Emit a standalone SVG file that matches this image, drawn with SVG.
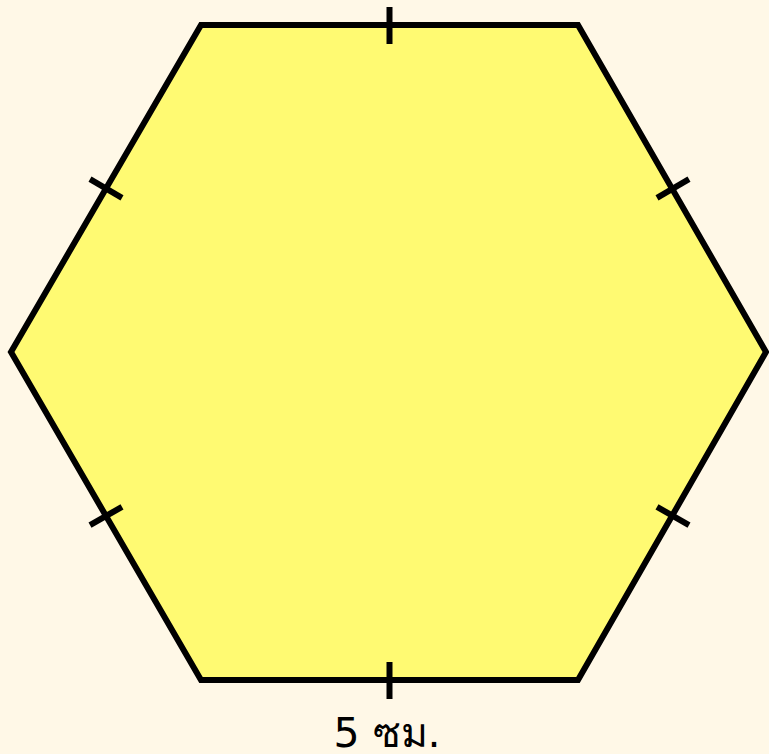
<svg xmlns="http://www.w3.org/2000/svg" width="769" height="754" viewBox="0 0 769 754">
<style>
.tick{stroke:#000;stroke-width:6;fill:none}
.lbl{font-family:"DejaVu Sans","Noto Sans",sans-serif;font-size:41px;fill:#000;text-anchor:middle}
</style>
<rect width="769" height="754" fill="#FFF8E7"/>
<g id="hexagon">
<polygon points="201,25 578,25 766,352 578,680 201,680 11,352" fill="#FFFA72" stroke="#000" stroke-width="6" stroke-linejoin="miter"/>
</g>
<g id="ticks">
<line class="tick" x1="389.5" y1="7" x2="389.5" y2="44"/>
<line class="tick" x1="389.5" y1="662" x2="389.5" y2="699"/>
<line class="tick" x1="90" y1="179.2" x2="122" y2="197.8"/>
<line class="tick" x1="657" y1="197.8" x2="689" y2="179.2"/>
<line class="tick" x1="90" y1="525.2" x2="122" y2="506.8"/>
<line class="tick" x1="657" y1="506.8" x2="689" y2="525.2"/>
</g>
<g id="label">
<text class="lbl" x="387" y="747">5 ซม.</text>
</g>
</svg>
